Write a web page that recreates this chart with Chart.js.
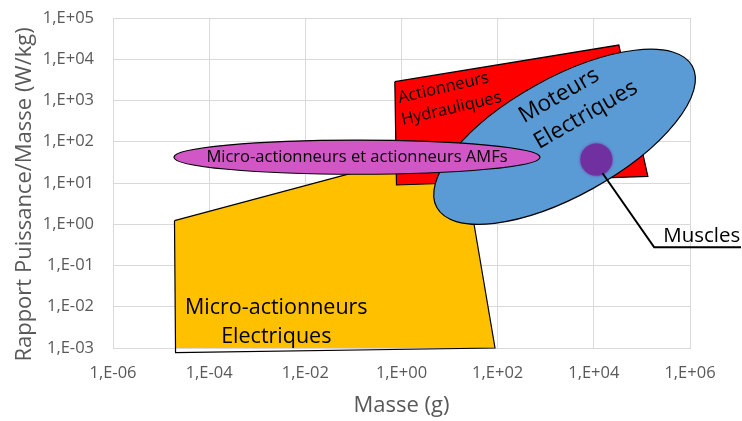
<!DOCTYPE html>
<html>
<head>
<meta charset="utf-8">
<script src="https://cdn.jsdelivr.net/npm/chart.js@4.4.0/dist/chart.umd.min.js"></script>
<style>
html, body { margin: 0; padding: 0; background: #fff; }
</style>
</head>
<body>
<canvas id="myChart" width="742" height="421"></canvas>
<script>
// axes (log-log)
var xTicks = [1e-6, 1e-4, 1e-2, 1e0, 1e2, 1e4, 1e6];
var xTickLabels = ['1,E-06', '1,E-04', '1,E-02', '1,E+00', '1,E+02', '1,E+04', '1,E+06'];
var yTicks = [1e-3, 1e-2, 1e-1, 1e0, 1e1, 1e2, 1e3, 1e4, 1e5];
var yTickLabels = ['1,E-03', '1,E-02', '1,E-01', '1,E+00', '1,E+01', '1,E+02', '1,E+03', '1,E+04', '1,E+05'];

// zones : masse (g) / rapport puissance-masse (W/kg)
var microElecMasse = [1.9e-5, 0.95, 20, 88, 2.0e-5, 1.9e-5];
var microElecPuiss = [1.22, 36, 27, 1.0e-3, 7.7e-4, 1.22];

var hydrauMasse = [0.726, 33100, 133000, 0.787, 0.726];
var hydrauPuiss = [2860, 22100, 14.5, 8.95, 2860];

// ellipse AMF : [gauche, droite] / [bas, haut]
var amfMasse = [1.85e-5, 760];
var amfPuiss = [16.3, 110];

// ellipse moteurs : centre
var moteursMasse = [2460];
var moteursPuiss = [132];

var musclesMasse = [11300];
var musclesPuiss = [37];

// trait de rappel "Muscles"
var calloutMasse = [15200, 180000, 1.15e7];
var calloutPuiss = [17.2, 0.276, 0.276];

var axisFont = "'Open Sans', sans-serif";
var axisGrey = '#595959';

function toPoints(xs, ys) {
    return xs.map(function(x, i) { return {x: x, y: ys[i]}; });
}

// labels drawn on the shapes (anchor in data units)
var shapeLabels = [
    {lines: ['Micro-actionneurs', 'Electriques'], x: 2.49e-3, y: 6.5e-3, size: 21.5, rot: 0, lh: 29, shift: 0, base: 'alphabetic'},
    {lines: ['Actionneurs', 'Hydrauliques'], x: 7.5, y: 2010, size: 16.5, rot: -13, lh: 22, shift: 3, base: 'middle'},
    {lines: ['Moteurs', 'Electriques'], x: 1890, y: 1306, size: 22.5, rot: -30, lh: 30, shift: 13.5, base: 'middle'}
];

var shapesPlugin = {
    id: 'shapes',
    beforeDatasetDraw: function(chart, args) {
        if (args.meta.type !== 'bubble') return;
        var ctx = chart.ctx;
        var xs = chart.scales.x, ys = chart.scales.y;

        // Moteurs Electriques
        ctx.save();
        ctx.beginPath();
        ctx.ellipse(xs.getPixelForValue(moteursMasse[0]), ys.getPixelForValue(moteursPuiss[0]),
            146, 59, -29 * Math.PI / 180, 0, Math.PI * 2);
        ctx.fillStyle = '#5b9bd5';
        ctx.fill();
        ctx.lineWidth = 1.2;
        ctx.strokeStyle = '#000';
        ctx.stroke();

        // Micro-actionneurs et actionneurs AMFs
        var l = xs.getPixelForValue(amfMasse[0]), r = xs.getPixelForValue(amfMasse[1]);
        var b = ys.getPixelForValue(amfPuiss[0]), t = ys.getPixelForValue(amfPuiss[1]);
        ctx.beginPath();
        ctx.ellipse((l + r) / 2, (t + b) / 2, (r - l) / 2, (b - t) / 2, 0, 0, Math.PI * 2);
        ctx.fillStyle = '#d157c6';
        ctx.fill();
        ctx.stroke();
        ctx.restore();

        ctx.save();
        ctx.shadowColor = '#7030a0';
        ctx.shadowBlur = 3;
    },
    afterDatasetDraw: function(chart, args) {
        if (args.meta.type === 'bubble') chart.ctx.restore();
    },
    afterDatasetsDraw: function(chart) {
        var ctx = chart.ctx;
        var xs = chart.scales.x, ys = chart.scales.y;
        ctx.save();
        ctx.fillStyle = '#000';

        shapeLabels.forEach(function(lab) {
            ctx.save();
            ctx.translate(xs.getPixelForValue(lab.x), ys.getPixelForValue(lab.y));
            ctx.rotate(lab.rot * Math.PI / 180);
            ctx.font = lab.size + 'px ' + axisFont;
            ctx.textAlign = 'center';
            ctx.textBaseline = lab.base;
            lab.lines.forEach(function(txt, i) {
                ctx.fillText(txt, i * lab.shift, i * lab.lh);
            });
            ctx.restore();
        });

        // AMF text in the middle of its ellipse
        var l = xs.getPixelForValue(amfMasse[0]), r = xs.getPixelForValue(amfMasse[1]);
        var b = ys.getPixelForValue(amfPuiss[0]), t = ys.getPixelForValue(amfPuiss[1]);
        ctx.font = '16.5px ' + axisFont;
        ctx.textAlign = 'center';
        ctx.textBaseline = 'middle';
        ctx.fillText('Micro-actionneurs et actionneurs AMFs', (l + r) / 2, (t + b) / 2);

        // Muscles
        var ex = xs.getPixelForValue(calloutMasse[1]), ey = ys.getPixelForValue(calloutPuiss[1]);
        ctx.font = '20.5px ' + axisFont;
        ctx.textAlign = 'left';
        ctx.textBaseline = 'alphabetic';
        ctx.fillText('Muscles', ex + 9, ey - 5);
        ctx.restore();
    }
};

var canvas = document.getElementById('myChart');
var ctx = canvas.getContext('2d');

var myChart = new Chart(ctx, {
    type: 'scatter',
    data: {
        datasets: [{
            label: 'Trait Muscles',
            data: toPoints(calloutMasse, calloutPuiss),
            showLine: true,
            fill: false,
            borderColor: '#000',
            borderWidth: 2,
            pointRadius: 0,
            tension: 0,
            clip: false,
            order: 0
        }, {
            type: 'bubble',
            label: 'Muscles',
            data: [{x: musclesMasse[0], y: musclesPuiss[0], r: 16}],
            backgroundColor: '#7030a0',
            borderWidth: 0,
            order: 1
        }, {
            label: 'Actionneurs Hydrauliques',
            data: toPoints(hydrauMasse, hydrauPuiss),
            showLine: true,
            fill: 'shape',
            backgroundColor: '#ff0000',
            borderColor: '#000',
            borderWidth: 1.2,
            pointRadius: 0,
            tension: 0,
            clip: false,
            order: 2
        }, {
            label: 'Micro-actionneurs Electriques',
            data: toPoints(microElecMasse, microElecPuiss),
            showLine: true,
            fill: 'shape',
            backgroundColor: '#ffc000',
            borderColor: '#000',
            borderWidth: 1.2,
            pointRadius: 0,
            tension: 0,
            clip: false,
            order: 3
        }]
    },
    options: {
        responsive: false,
        animation: false,
        events: [],
        layout: { padding: { left: 0, right: 52, top: 18, bottom: 0 } },
        plugins: {
            legend: { display: false },
            tooltip: { enabled: false }
        },
        scales: {
            x: {
                type: 'logarithmic',
                min: 1e-6,
                max: 1e6,
                afterBuildTicks: function(scale) {
                    scale.ticks = xTicks.map(function(v) { return {value: v}; });
                },
                afterFit: function(scale) {
                    scale.height = 73;
                    scale.paddingLeft = 0;
                    scale.paddingRight = 0;
                },
                grid: { color: '#d9d9d9', lineWidth: 1, drawTicks: false },
                border: { color: '#d9d9d9' },
                ticks: {
                    autoSkip: false,
                    maxRotation: 0,
                    padding: 15,
                    color: axisGrey,
                    font: { family: axisFont, size: 16.5 },
                    callback: function(value, index) { return xTickLabels[index]; }
                },
                title: {
                    display: true,
                    text: 'Masse (g)',
                    color: axisGrey,
                    font: { family: axisFont, size: 22 },
                    padding: { top: 0, bottom: 2 }
                }
            },
            y: {
                type: 'logarithmic',
                min: 1e-3,
                max: 1e5,
                afterBuildTicks: function(scale) {
                    scale.ticks = yTicks.map(function(v) { return {value: v}; });
                },
                afterFit: function(scale) {
                    scale.width = 113;
                    scale.paddingTop = 0;
                    scale.paddingBottom = 0;
                },
                grid: { color: '#d9d9d9', lineWidth: 1, drawTicks: false },
                border: { color: '#d9d9d9' },
                ticks: {
                    autoSkip: false,
                    padding: 19,
                    color: axisGrey,
                    font: { family: axisFont, size: 16.5 },
                    callback: function(value, index) { return yTickLabels[index]; }
                },
                title: {
                    display: true,
                    text: 'Rapport Puissance/Masse (W/kg)\u00a0\u00a0\u00a0\u00a0',
                    color: axisGrey,
                    font: { family: axisFont, size: 22 },
                    padding: { top: 11.6, bottom: 0 }
                }
            }
        }
    },
    plugins: [shapesPlugin]
});
</script>
</body>
</html>
